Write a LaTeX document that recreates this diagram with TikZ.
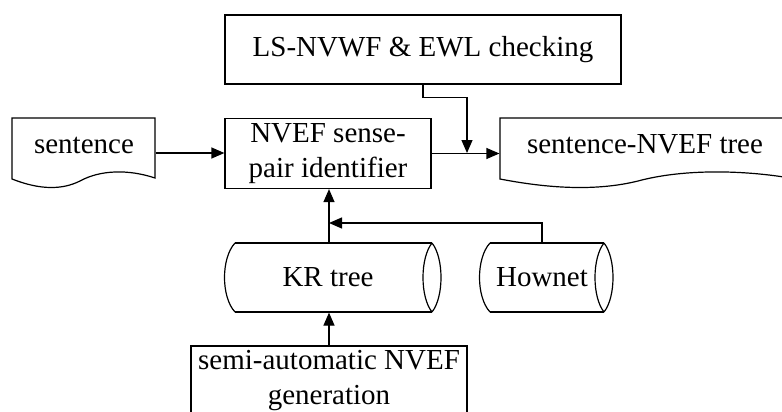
\documentclass[tikz,border=0pt]{standalone}
\usepackage{fontspec}
\setmainfont{Liberation Serif}
\usetikzlibrary{arrows.meta}
\newcommand{\fsz}{\fontsize{29}{35}\selectfont}
\begin{document}
\begin{tikzpicture}[x=1pt,y=-1pt, line width=1.2pt,
  box/.style={draw, rectangle, inner sep=0pt, align=center, font=\fsz},
  area/.style={draw=none, rectangle, inner sep=0pt},
  lbl/.style={inner sep=0pt, align=center, font=\fsz},
  arr/.style={-{Triangle[length=13pt,width=11pt]}}]
\clip (0,0) rectangle (782,412);
\fill[white] (0,0) rectangle (782,412);

% document shapes
\begin{scope}[shift={(12,0)}]
  \draw (0,118) -- (143,118) -- (143,178) .. controls (116,169) and (88,170) .. (68,181) .. controls (50,190) and (28,190) .. (0,179) -- cycle;
\end{scope}
\begin{scope}[shift={(500,0)}, xscale=2.03]
  \draw (0,118) -- (143,118) -- (143,178) .. controls (116,169) and (88,170) .. (68,181) .. controls (50,190) and (28,190) .. (0,179) -- cycle;
\end{scope}
\node[area, minimum width=143, minimum height=70] (sent) at (83.5,153) {};
\node[lbl, anchor=base] (sentt) at (84,153) {sentence};
\node[area, minimum width=290, minimum height=70] (tree) at (645,153) {};
\node[lbl, anchor=base] (treet) at (645,153) {sentence-NVEF tree};

% boxes
\node[box, minimum width=396, minimum height=69] (ls) at (423,49.5) {LS-NVWF \& EWL checking};
\node[box, minimum width=206, minimum height=70] (nvef) at (328,153.5) {NVEF sense-\\pair identifier};
\node[box, minimum width=276, minimum height=70] (semi) at (329,381) {semi-automatic NVEF\\generation};

% cylinders
\draw (235,243) -- (432,243) (235,312) -- (432,312);
\draw (235,243) .. controls (221,258) and (221,297) .. (235,312);
\draw (432,243) .. controls (420,258) and (420,297) .. (432,312);
\draw (432,243) .. controls (444,258) and (444,297) .. (432,312);
\node[area, minimum width=200, minimum height=69] (kr) at (329,277.5) {};
\node[lbl, anchor=base] (krt) at (328,286) {KR tree};

\draw (490,243) -- (604,243) (490,312) -- (604,312);
\draw (490,243) .. controls (476,258) and (476,297) .. (490,312);
\draw (604,243) .. controls (592,258) and (592,297) .. (604,312);
\draw (604,243) .. controls (616,258) and (616,297) .. (604,312);
\node[area, minimum width=100, minimum height=69] (hownet) at (542,277.5) {};
\node[lbl, anchor=base] (hownett) at (542,286) {Hownet};

% connectors
\coordinate (j) at (467,153);
\coordinate (hj) at (329,223);
\draw[arr] (sent.east) -- (nvef.west |- sent.east);
\draw[arr] (nvef.east) -- (nvef.east -| tree.west);
\draw[arr] (ls.south) -- ++(0,13) -| (j);
\draw[arr] (kr.north) -- (kr.north |- nvef.south);
\draw[arr] (hownet.north) |- (hj);
\draw[arr] (semi.north) -- (semi.north |- kr.south);
\end{tikzpicture}
\end{document}
